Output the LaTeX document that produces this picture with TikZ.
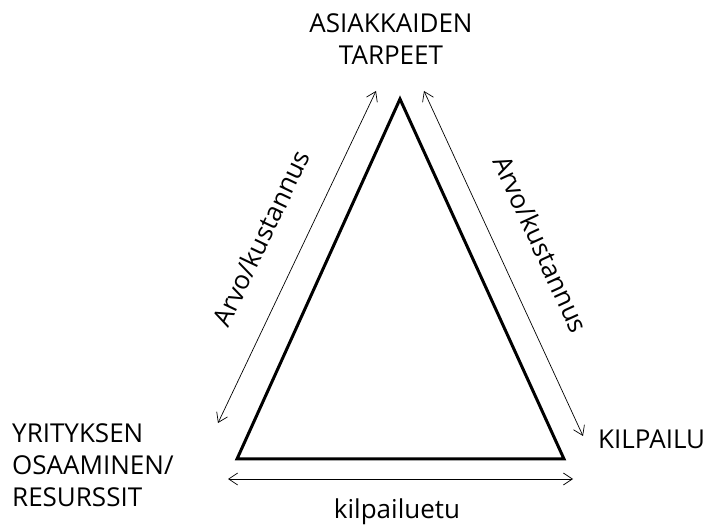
\documentclass[tikz,border=0pt]{standalone}
\usepackage{fontspec}
\setmainfont{Open Sans}
\usetikzlibrary{arrows.meta}
\begin{document}
\begin{tikzpicture}[x=1pt,y=-1pt,
  lbl/.style={font=\fontsize{26}{32}\selectfont, inner sep=0pt},
  dbl/.style={line width=0.7pt, {Straight Barb[length=9pt,width=12pt]}-{Straight Barb[length=9pt,width=12pt]}},
  tri/.style={line width=3pt, line join=miter}]
\useasboundingbox (0,0) rectangle (705,529);
\coordinate (T) at (400,99);
\coordinate (BL) at (237,459);
\coordinate (BR) at (564,459);
\draw[tri] (T) -- (BL) -- (BR) -- cycle;
\coordinate (la) at (218,423);
\coordinate (lb) at (376,91);
\coordinate (ra) at (424,91);
\coordinate (rb) at (583,436);
\coordinate (ba) at (228,479);
\coordinate (bb) at (573,479);
\draw[dbl] (la) -- (lb);
\draw[dbl] (ra) -- (rb);
\draw[dbl] (ba) -- (bb);
\node[lbl, align=center] (top) at (391,39) {ASIAKKAIDEN\\TARPEET};
\node[lbl, align=left, anchor=west] (left) at (12,465) {YRITYKSEN\\OSAAMINEN/\\RESURSSIT};
\node[lbl, anchor=west] (kil) at (598,439) {KILPAILU};
\node[lbl] (ket) at (397,512) {kilpailuetu};
\node[lbl, rotate=64.5] (lv) at (261,238) {Arvo/kustannus};
\node[lbl, rotate=-65.3] (rv) at (541,244) {Arvo/kustannus};
\end{tikzpicture}
\end{document}
